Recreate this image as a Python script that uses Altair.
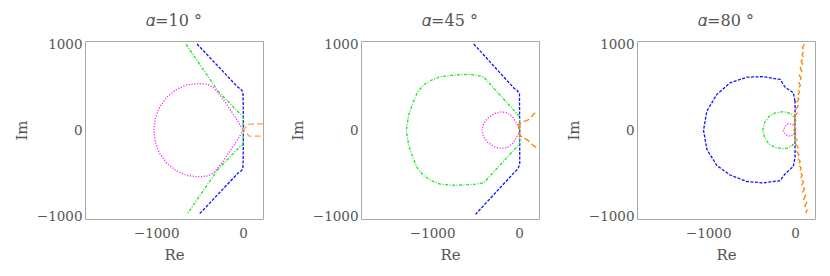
import altair as alt
import pandas as pd

# ---------- data (Re, Im) ----------
TITLES = ["𝛼=10 °", "𝛼=45 °", "𝛼=80 °"]

# panel 1 : alpha = 10
P1_BLUE = [[(-530, 1000), (-60, 500), (-25, 475), (-5, 450), (0, 420), (3, 200), (5, 0),
            (3, -200), (0, -420), (-5, -450), (-25, -475), (-60, -500), (-507, -977)]]
P1_GREEN = [[(-655, 995), (-290, 455), (-40, 195), (-5, 170), (0, 150), (0, 0), (0, -150),
             (-5, -170), (-40, -195), (-290, -455), (-646, -977)]]
P1_MAGENTA = [[(-5, 10), (-50, 90), (-135, 220), (-230, 360), (-326, 483), (-400, 530), (-519, 541),
               (-650, 525), (-776, 468), (-880, 380), (-960, 270), (-1010, 140), (-1027, 0),
               (-1010, -140), (-960, -270), (-880, -380), (-776, -468), (-650, -525), (-519, -541),
               (-400, -530), (-326, -483), (-230, -360), (-135, -220), (-50, -90), (-5, -10)]]
P1_ORANGE = [[(230, 73), (120, 73), (60, 68), (5, 5), (45, -35), (70, -68), (230, -70)]]

# panel 2 : alpha = 45
P2_BLUE = [[(-522, 1000), (-60, 490), (-20, 460), (5, 420), (8, 0), (8, -400), (-15, -450),
            (-55, -490), (-500, -975)]]
P2_GREEN = [[(5, 0), (5, 160), (-410, 620), (-500, 640), (-583, 648), (-750, 640), (-908, 620),
             (-1010, 580), (-1100, 527), (-1170, 440), (-1215, 336), (-1270, 180), (-1299, 0),
             (-1270, -180), (-1215, -336), (-1170, -440), (-1100, -527), (-1010, -585), (-908, -625),
             (-750, -640), (-583, -632), (-500, -625), (-405, -608), (5, -160), (5, 0)]]
P2_MAGENTA = [[(0, 30), (-65, 144), (-130, 200), (-205, 212), (-280, 195), (-360, 140), (-410, 75),
               (-426, 0), (-410, -75), (-360, -140), (-280, -195), (-205, -212), (-130, -200),
               (-65, -144), (0, -30)]]
P2_ORANGE = [[(0, 20), (10, 70), (40, 95), (60, 105), (90, 112), (110, 125), (130, 150), (150, 165),
              (170, 190), (185, 200), (205, 215)],
             [(0, -20), (15, -65), (45, -85), (75, -100), (100, -115), (115, -130), (140, -150),
              (160, -175), (185, -190), (210, -210)],
             [(0, 80), (0, -20)]]

# panel 3 : alpha = 80
P3_BLUE = [[(0, 338), (-20, 434), (-115, 500), (-172, 589), (-364, 622), (-555, 615), (-747, 550),
            (-900, 416), (-1015, 223), (-1054, 0), (-1015, -223), (-900, -410), (-747, -520),
            (-555, -595), (-364, -611), (-172, -585), (-115, -508), (-20, -420), (0, -315), (0, 338)]]
P3_GREEN = [[(0, 140), (-40, 185), (-100, 210), (-153, 213), (-230, 200), (-300, 160), (-350, 90),
             (-372, 0), (-350, -90), (-300, -160), (-230, -200), (-153, -213), (-100, -210),
             (-40, -185), (0, -140), (0, 140)]]
P3_MAGENTA = [[(0, 30), (-30, 70), (-77, 75), (-115, 45), (-134, 0), (-115, -45), (-77, -70),
               (-30, -60), (0, -30)]]
P3_ORANGE = [[(110, 1000), (85, 960), (105, 920), (80, 880), (100, 840), (70, 800), (90, 760),
              (60, 720), (80, 680), (50, 640), (70, 600), (40, 560), (62, 520), (32, 480), (52, 440),
              (22, 400), (44, 360), (15, 320), (35, 280), (5, 240), (25, 200), (-5, 160), (15, 120),
              (-10, 80), (5, 40), (-15, 0), (15, -40), (-5, -80), (25, -120), (5, -160), (35, -200),
              (15, -240), (45, -280), (25, -320), (60, -360), (38, -400), (72, -440), (50, -480),
              (85, -520), (62, -560), (98, -600), (75, -640), (110, -680), (88, -720), (122, -760),
              (100, -800), (135, -840), (112, -880), (140, -920), (125, -960)]]

PANELS = [
    {"blue": P1_BLUE, "green": P1_GREEN, "magenta": P1_MAGENTA, "orange": P1_ORANGE},
    {"blue": P2_BLUE, "green": P2_GREEN, "magenta": P2_MAGENTA, "orange": P2_ORANGE},
    {"blue": P3_BLUE, "green": P3_GREEN, "magenta": P3_MAGENTA, "orange": P3_ORANGE},
]
ORANGE_COLORS = ["#f6a35a", "#ff8000", "#ff8000"]

X_DOMAIN = [-1820, 230]
Y_DOMAIN = [-1030, 1035]
X_TICKS = [-1000, 0]
Y_TICKS = [-1000, 0, 1000]

STYLE = {
    "blue": {"color": "#1010ff", "dash": [3, 1.5]},
    "green": {"color": "#22e022", "dash": [3, 1.5, 1, 1.5]},
    "magenta": {"color": "#ff22ff", "dash": [1.2, 1.6]},
    "orange": {"color": "#ff8000", "dash": [6, 3]},
}

FONT = "DejaVu Serif"
TXT = "#555555"
LABEL_EXPR = "(datum.value < 0 ? '\u2212' : '') + format(abs(datum.value), 'd')"


def rows(series):
    out = []
    for s, seg in enumerate(series):
        for i, (re, im) in enumerate(seg):
            out.append({"seg": s, "i": i, "re": re, "im": im})
    return pd.DataFrame(out)


def panel(k):
    layers = []
    for name in ["blue", "green", "magenta", "orange"]:
        st = STYLE[name]
        color = ORANGE_COLORS[k] if name == "orange" else st["color"]
        c = alt.Chart(rows(PANELS[k][name])).mark_line(
            color=color, strokeDash=st["dash"], strokeWidth=1.3, clip=True
        ).encode(
            x=alt.X("re:Q", scale=alt.Scale(domain=X_DOMAIN, nice=False, zero=False),
                    axis=alt.Axis(values=X_TICKS, labelExpr=LABEL_EXPR, title="Re", grid=False,
                                  tickSize=0, domain=False, labelPadding=7, titlePadding=8)),
            y=alt.Y("im:Q", scale=alt.Scale(domain=Y_DOMAIN, nice=False, zero=False),
                    axis=alt.Axis(values=Y_TICKS, labelExpr=LABEL_EXPR, title="Im", grid=False,
                                  tickSize=0, domain=False, labelPadding=3, titlePadding=7)),
            order="i:Q",
            detail="seg:N",
        )
        layers.append(c)
    return alt.layer(*layers).properties(
        width=178, height=178,
        title=alt.Title(TITLES[k], fontSize=16, font=FONT, color=TXT, fontWeight="normal", offset=8),
    )


chart = alt.hconcat(panel(0), panel(1), panel(2), spacing=25).properties(
    padding={"left": 5, "top": 4, "right": 5, "bottom": 5}
).configure_view(stroke="#a8a8a8", strokeWidth=1).configure_axis(
    labelFont=FONT, titleFont=FONT, labelFontSize=13.5, titleFontSize=15,
    labelColor=TXT, titleColor=TXT, titleFontWeight="normal"
).configure_axisY(titleAngle=-90)

chart.save("out.html", embed_options={"renderer": "svg", "actions": False})
